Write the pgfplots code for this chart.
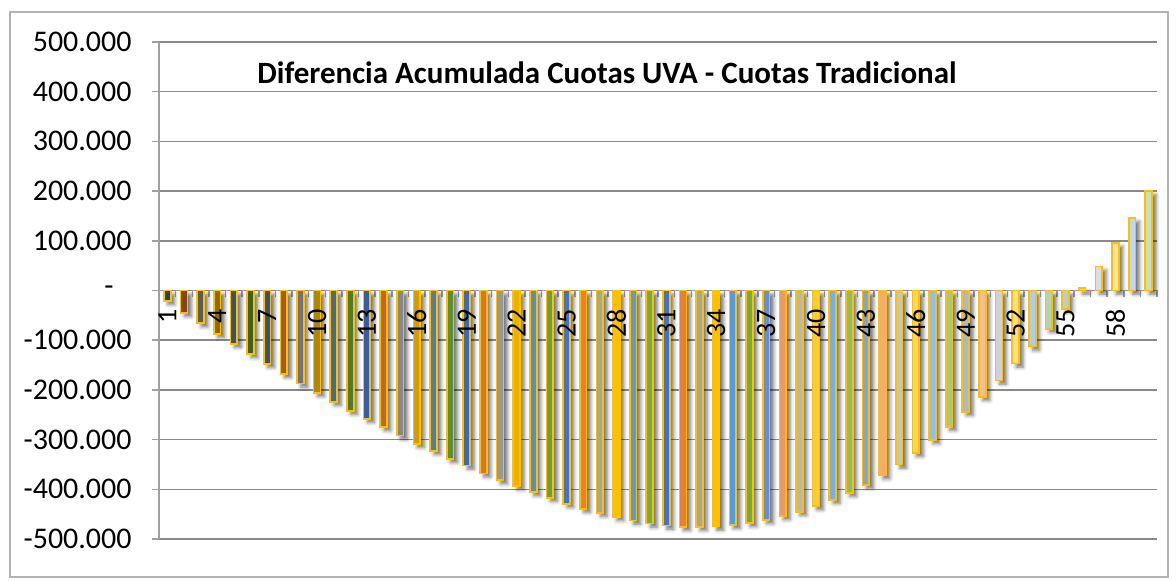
\documentclass[border=0pt]{standalone}
\usepackage{pgfplots}
\pgfplotsset{compat=1.18}
\usepackage{fontspec}
\setmainfont{Carlito}
\usetikzlibrary{shadows.blur}
\definecolor{A1}{HTML}{4472C4}
\definecolor{A2}{HTML}{ED7D31}
\definecolor{A3}{HTML}{A5A5A5}
\definecolor{A4}{HTML}{FFC000}
\definecolor{A5}{HTML}{5B9BD5}
\definecolor{A6}{HTML}{70AD47}
\definecolor{gridc}{HTML}{8A8A8A}
\definecolor{axc}{HTML}{A0A0A0}
\newcommand{\B}[3]{\addplot[fill=#1, draw=A4, line width=0.85pt, bar shift=0pt,
  blur shadow={shadow xshift=2pt, shadow yshift=-1.8pt, shadow blur radius=1.8pt, shadow opacity=55}]
  coordinates {(#2,#3)};}
\begin{document}
\begin{tikzpicture}
\path[use as bounding box] (0,0) rectangle (588pt,290.5pt);
\begin{axis}[
  at={(79.5pt,21pt)}, anchor=south west,
  scale only axis, width=499pt, height=248.5pt,
  xmin=0.5, xmax=60.5, ymin=-500000, ymax=500000,
  scaled y ticks=false,
  ybar, bar width=3.4pt,
  axis x line=middle, axis y line=left,
  axis line style={draw=axc, line width=0.75pt, -},
  xtick={0.5,1.5,...,60.5}, xticklabels={},
  xtick align=outside, ytick align=outside,
  major tick length=3.5pt,
  tick style={draw=axc, line width=0.75pt},
  ytick={-500000,-400000,-300000,-200000,-100000,0,100000,200000,300000,400000,500000},
  yticklabels={-500.000,-400.000,-300.000,-200.000,-100.000,{-\hspace*{9pt}},100.000,200.000,300.000,400.000,500.000},
  yticklabel style={font=\fontsize{15}{18}\selectfont, inner sep=0pt, anchor=east},
  yticklabel shift=10pt,
  ymajorgrids, xmajorgrids=false,
  major grid style={draw=gridc, line width=0.75pt},
  clip=false,
]
\B{A1!55!black}{1}{-21000}
\B{A2!55!black}{2}{-45000}
\B{A3!55!black}{3}{-66000}
\B{A4!55!black}{4}{-87000}
\B{A5!55!black}{5}{-107000}
\B{A6!55!black}{6}{-128000}
\B{A1!70!black}{7}{-148000}
\B{A2!70!black}{8}{-168000}
\B{A3!70!black}{9}{-187000}
\B{A4!70!black}{10}{-206000}
\B{A5!70!black}{11}{-224000}
\B{A6!70!black}{12}{-242000}
\B{A1!82!black}{13}{-258000}
\B{A2!82!black}{14}{-275000}
\B{A3!82!black}{15}{-292000}
\B{A4!82!black}{16}{-309000}
\B{A5!82!black}{17}{-323000}
\B{A6!82!black}{18}{-339000}
\B{A1!92!black}{19}{-352000}
\B{A2!92!black}{20}{-368000}
\B{A3!92!black}{21}{-382000}
\B{A4!92!black}{22}{-394000}
\B{A5!92!black}{23}{-406000}
\B{A6!92!black}{24}{-417000}
\B{A1}{25}{-429000}
\B{A2}{26}{-439000}
\B{A3}{27}{-447000}
\B{A4}{28}{-456000}
\B{A5}{29}{-463000}
\B{A6}{30}{-469000}
\B{A1}{31}{-473000}
\B{A2}{32}{-476000}
\B{A3}{33}{-476000}
\B{A4}{34}{-475000}
\B{A5}{35}{-472000}
\B{A6}{36}{-468000}
\B{A1!80!white}{37}{-462000}
\B{A2!80!white}{38}{-454000}
\B{A3!80!white}{39}{-445000}
\B{A4!80!white}{40}{-434000}
\B{A5!80!white}{41}{-421000}
\B{A6!80!white}{42}{-407000}
\B{A1!65!white}{43}{-391000}
\B{A2!65!white}{44}{-372000}
\B{A3!65!white}{45}{-350000}
\B{A4!65!white}{46}{-327000}
\B{A5!65!white}{47}{-301000}
\B{A6!65!white}{48}{-274000}
\B{A1!50!white}{49}{-244000}
\B{A2!50!white}{50}{-214000}
\B{A3!50!white}{51}{-181000}
\B{A4!50!white}{52}{-147000}
\B{A5!50!white}{53}{-113000}
\B{A6!50!white}{54}{-77000}
\B{A1!38!white}{55}{-37000}
\B{A2!38!white}{56}{5000}
\B{A3!38!white}{57}{48000}
\B{A4!38!white}{58}{96000}
\B{A5!38!white}{59}{146000}
\B{A6!38!white}{60}{200000}
\addplot[draw=none, fill=none, bar shift=0pt, bar width=0pt,
  point meta=explicit symbolic, nodes near coords,
  nodes near coords style={font=\fontsize{14}{16}\selectfont, text=black, inner sep=0pt,
    yshift=-9pt, rotate=90, anchor=east}]
  coordinates {(1,0)[1] (4,0)[4] (7,0)[7] (10,0)[10] (13,0)[13] (16,0)[16] (19,0)[19]
    (22,0)[22] (25,0)[25] (28,0)[28] (31,0)[31] (34,0)[34] (37,0)[37] (40,0)[40]
    (43,0)[43] (46,0)[46] (49,0)[49] (52,0)[52] (55,0)[55] (58,0)[58]};
\end{axis}
\node[font=\bfseries\fontsize{15.5}{18}\selectfont] at (303.5pt,254pt) {Diferencia Acumulada Cuotas UVA - Cuotas Tradicional};
\draw[draw=black!30, line width=1pt] (5pt,2pt) rectangle (584pt,284.5pt);
\end{tikzpicture}
\end{document}
